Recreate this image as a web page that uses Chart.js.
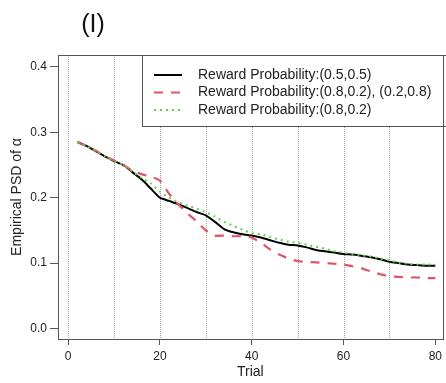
<!DOCTYPE html>
<html>
<head>
<meta charset="utf-8">
<script src="https://cdn.jsdelivr.net/npm/chart.js@4/dist/chart.umd.min.js"></script>
<style>
  body { margin: 0; background: #fff; }
  canvas { display: block; }
</style>
</head>
<body>
<canvas id="myChart" width="446" height="383"></canvas>
<script>
var trials = [2,4,6,8,10,12,14,16,18,20,22,24,26,28,30,32,34,36,38,40,
              42,44,46,48,50,52,54,56,58,60,62,64,66,68,70,72,74,76,78,80];

// reward probability (0.5,0.5)
var psdEqual = [0.285,0.279,0.271,0.263,0.256,0.250,0.239,0.228,0.214,0.200,
                0.195,0.190,0.184,0.178,0.173,0.163,0.152,0.147,0.144,0.142,
                0.139,0.135,0.131,0.128,0.127,0.124,0.120,0.118,0.116,0.114,
                0.113,0.111,0.109,0.106,0.102,0.100,0.098,0.097,0.096,0.096];
// reward probability (0.8,0.2), (0.2,0.8)
var psdSwitch = [0.285,0.279,0.272,0.263,0.257,0.250,0.241,0.236,0.232,0.226,
                 0.206,0.190,0.176,0.164,0.150,0.142,0.142,0.141,0.141,0.139,
                 0.131,0.121,0.113,0.107,0.103,0.102,0.101,0.100,0.099,0.098,
                 0.095,0.092,0.087,0.083,0.080,0.079,0.078,0.078,0.077,0.077];
// reward probability (0.8,0.2)
var psdFixed = [0.285,0.279,0.271,0.263,0.256,0.250,0.240,0.230,0.222,0.209,
                0.200,0.193,0.188,0.183,0.178,0.171,0.163,0.157,0.151,0.146,
                0.144,0.140,0.136,0.133,0.131,0.128,0.125,0.122,0.118,0.116,
                0.114,0.112,0.110,0.107,0.104,0.101,0.099,0.098,0.098,0.098];

var seriesNames = ["Reward Probability:(0.5,0.5)",
                   "Reward Probability:(0.8,0.2), (0.2,0.8)",
                   "Reward Probability:(0.8,0.2)"];
var xTicks = [0,20,40,60,80];
var yTicks = [0.0,0.1,0.2,0.3,0.4];
var gridTrials = [0,10,20,30,40,50,60,70];

function pts(ys) {
    return trials.map(function(t, i) { return {x: t, y: ys[i]}; });
}

var FONT = "'Liberation Sans', Arial, sans-serif";

// box, dotted verticals, panel tag and legend
var decor = {
    id: 'decor',
    beforeDatasetsDraw: function(chart) {
        var c = chart.ctx, a = chart.chartArea, sx = chart.scales.x;
        c.save();
        c.strokeStyle = '#a0a0a0';
        c.lineWidth = 1;
        c.setLineDash([1, 1]);
        gridTrials.forEach(function(t) {
            var px = Math.round(sx.getPixelForValue(t)) + 0.5;
            c.beginPath();
            c.moveTo(px, a.top);
            c.lineTo(px, a.bottom);
            c.stroke();
        });
        c.restore();
    },
    afterDatasetsDraw: function(chart) {
        var c = chart.ctx, a = chart.chartArea;
        c.save();
        // legend
        var lx = 142.5, ly = 55.5, lw = 320, lh = 71;
        c.fillStyle = '#fff';
        c.fillRect(lx, ly, lw, lh);
        c.strokeStyle = '#555';
        c.lineWidth = 1;
        c.strokeRect(lx, ly, lw, lh);
        c.font = '14px ' + FONT;
        c.textBaseline = 'middle';
        chart.data.datasets.forEach(function(ds, i) {
            var y = 75 + i * 17.5;
            c.strokeStyle = ds.borderColor;
            c.lineWidth = ds.borderWidth;
            c.setLineDash(ds.borderDash || []);
            c.beginPath();
            c.moveTo(154, y);
            c.lineTo(182, y);
            c.stroke();
            c.setLineDash([]);
            c.fillStyle = '#222';
            c.fillText(ds.label, 198, y);
        });
        // plot box
        c.strokeStyle = '#555';
        c.lineWidth = 1;
        c.strokeRect(Math.round(a.left) + 0.5, Math.round(a.top) + 0.5,
                     Math.round(a.right - a.left), Math.round(a.bottom - a.top));
        // panel tag
        c.fillStyle = '#111';
        c.font = '25px ' + FONT;
        c.textBaseline = 'middle';
        c.textAlign = 'center';
        c.fillText('(I)', 93, 25);
        c.restore();
    }
};

new Chart(document.getElementById("myChart"), {
    type: "line",
    data: {
        datasets: [{
            label: seriesNames[0],
            data: pts(psdEqual),
            borderColor: "#000000",
            borderWidth: 2,
            order: 3
        }, {
            label: seriesNames[1],
            data: pts(psdSwitch),
            borderColor: "#DF536B",
            borderWidth: 2.2,
            borderDash: [9, 8],
            order: 2
        }, {
            label: seriesNames[2],
            data: pts(psdFixed),
            borderColor: "#61D04F",
            borderWidth: 2,
            borderDash: [2, 4],
            order: 1
        }]
    },
    options: {
        responsive: false,
        animation: false,
        devicePixelRatio: 1,
        layout: { padding: { top: 55, right: 1, left: 0, bottom: 0 } },
        elements: { point: { radius: 0 }, line: { tension: 0.2, fill: false } },
        plugins: { legend: { display: false }, tooltip: { enabled: false } },
        scales: {
            x: {
                type: 'linear',
                min: -2.2,
                max: 81.6,
                afterBuildTicks: function(s) { s.ticks = xTicks.map(function(v) { return {value: v}; }); },
                afterFit: function(s) { s.height = 44; },
                grid: { drawOnChartArea: false, drawTicks: true, tickLength: 6, color: '#555' },
                border: { display: false },
                ticks: { color: '#222', font: { family: FONT, size: 12 }, padding: 4, maxRotation: 0 },
                title: { display: true, text: 'Trial', color: '#222', font: { family: FONT, size: 14 }, padding: { top: 0, bottom: 2 } }
            },
            y: {
                min: -0.016,
                max: 0.418,
                afterBuildTicks: function(s) { s.ticks = yTicks.map(function(v) { return {value: v}; }); },
                afterFit: function(s) { s.width = 58; },
                grid: { drawOnChartArea: false, drawTicks: true, tickLength: 8, color: '#555' },
                border: { display: false },
                ticks: {
                    color: '#222', font: { family: FONT, size: 12 }, padding: 3,
                    callback: function(v) { return v.toFixed(1); }
                },
                title: { display: true, text: 'Empirical PSD of α', color: '#222', font: { family: FONT, size: 14 }, padding: { top: 9, bottom: 0 } }
            }
        }
    },
    plugins: [decor]
});
</script>
</body>
</html>
